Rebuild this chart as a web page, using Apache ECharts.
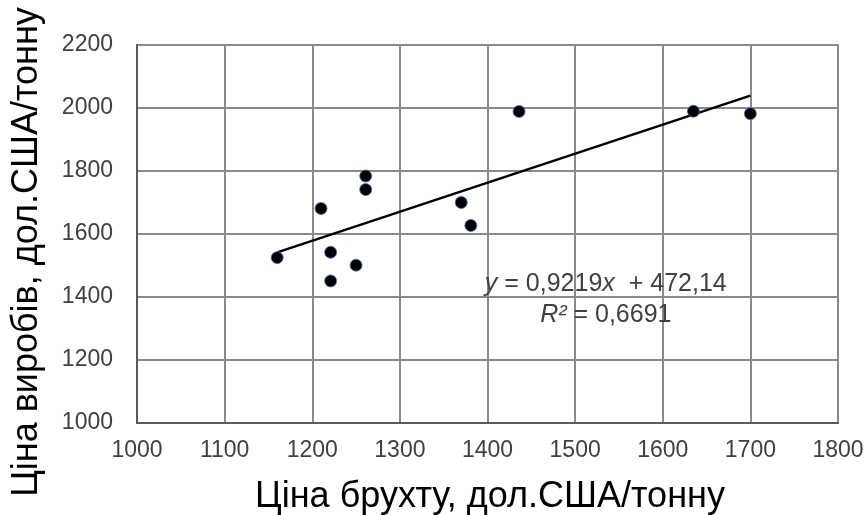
<!DOCTYPE html>
<html>
<head>
<meta charset="utf-8">
<script src="https://cdn.jsdelivr.net/npm/echarts@6/dist/echarts.min.js"></script>
<style>
  html, body { margin: 0; padding: 0; background: #fff; }
  #chart { width: 868px; height: 515px; }
</style>
</head>
<body>
<div id="chart"></div>
<script>
// Scrap price (x) vs. product price (y), USD per tonne
const scrapPrice   = [1160, 1210, 1221, 1221, 1250, 1261, 1261, 1370, 1381, 1436, 1635, 1700];
const productPrice = [1525, 1681, 1542, 1451, 1501, 1784, 1741, 1700, 1627, 1989, 1990, 1982];

// Linear trend: y = slope * x + intercept
const slope = 0.9219;
const intercept = 472.14;
const rSquared = '0,6691';

const xTicks = { min: 1000, max: 1800, step: 100 };
const yTicks = { min: 1000, max: 2200, step: 200 };

const xTitle = 'Ціна брухту, дол.США/тонну';
const yTitle = 'Ціна виробів, дол.США/тонну';

const FONT = '"Liberation Sans", Arial, sans-serif';

const points = scrapPrice.map((x, i) => [x, productPrice[i]]);
const xLo = Math.min(...scrapPrice);
const xHi = Math.max(...scrapPrice);
const trend = [[xLo, slope * xLo + intercept], [xHi, slope * xHi + intercept]];

const chart = echarts.init(document.getElementById('chart'));

const gridLine = { lineStyle: { color: '#8a8a8a', width: 2 } };
const axisLine = { lineStyle: { color: '#5a5a5a', width: 2 } };
const tickLabel = {
  color: '#404040', fontSize: 23, fontFamily: FONT,
  formatter: v => String(v)
};

chart.setOption({
  animation: false,
  backgroundColor: '#ffffff',
  grid: { left: 137, top: 45, right: 30, bottom: 92, show: true, borderColor: '#9a9a9a', borderWidth: 2 },
  xAxis: {
    type: 'value',
    min: xTicks.min, max: xTicks.max, interval: xTicks.step,
    axisLine: Object.assign({ show: true }, axisLine),
    axisTick: { show: false },
    splitLine: Object.assign({ show: true }, gridLine),
    axisLabel: Object.assign({ margin: 16 }, tickLabel)
  },
  yAxis: {
    type: 'value',
    min: yTicks.min, max: yTicks.max, interval: yTicks.step,
    axisLine: Object.assign({ show: true }, axisLine),
    axisTick: { show: false },
    splitLine: Object.assign({ show: true }, gridLine),
    axisLabel: Object.assign({ margin: 24 }, tickLabel)
  },
  series: [
    {
      type: 'line',
      data: trend,
      symbol: 'none',
      lineStyle: { color: '#000', width: 2.5 },
      z: 3
    },
    {
      type: 'scatter',
      data: points,
      symbolSize: 12,
      itemStyle: { color: '#000', opacity: 1, borderColor: '#3f72b5', borderWidth: 0.8 },
      z: 4
    }
  ]
});

// Axis titles and trend equation
function placeText() {
  const p1 = chart.convertToPixel({ gridIndex: 0 }, [1535, 1441]);
  const p2 = chart.convertToPixel({ gridIndex: 0 }, [1535, 1342]);
  const italic = { i: { fontStyle: 'italic', fontSize: 25, fontFamily: FONT, fill: '#404040' } };
  chart.setOption({
    graphic: [
      {
        type: 'text', x: 490, y: 497, z: 10,
        style: {
          text: xTitle, align: 'center', verticalAlign: 'middle',
          fill: '#000', font: '36px ' + FONT
        }
      },
      {
        type: 'text', x: 27, y: 252, rotation: Math.PI / 2, z: 10,
        style: {
          text: yTitle, align: 'center', verticalAlign: 'middle',
          fill: '#000', font: '36px ' + FONT
        }
      },
      {
        type: 'text', x: p1[0], y: p1[1], z: 10,
        style: {
          text: '{i|y} = 0,9219{i|x}  + 472,14',
          align: 'center', verticalAlign: 'middle',
          fill: '#404040', font: '25px ' + FONT, rich: italic
        }
      },
      {
        type: 'text', x: p2[0], y: p2[1], z: 10,
        style: {
          text: '{i|R²} = ' + rSquared,
          align: 'center', verticalAlign: 'middle',
          fill: '#404040', font: '25px ' + FONT, rich: italic
        }
      }
    ]
  });
}
placeText();
</script>
</body>
</html>
